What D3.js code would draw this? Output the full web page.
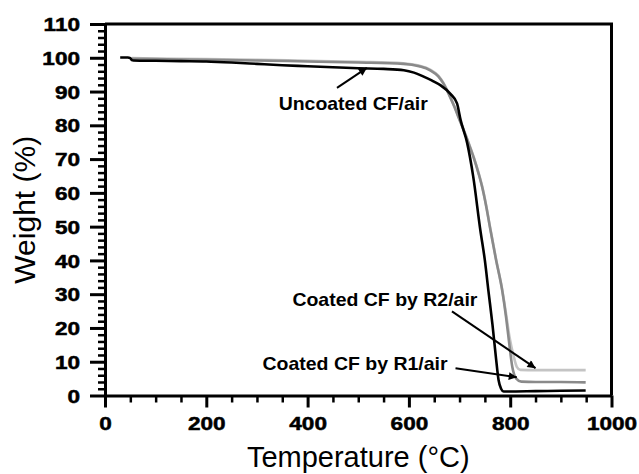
<!DOCTYPE html>
<html><head><meta charset="utf-8">
<script src="https://cdn.jsdelivr.net/npm/d3@7"></script>
<style>body{margin:0;background:#fff}svg{display:block}</style>
</head><body><svg id="c" width="639" height="474"></svg>
<script>
// ---- data ----
const uncoatedT = [30, 45, 50, 53, 56, 100, 150, 200, 250, 300, 350, 400, 450, 500, 550, 590, 610, 628, 645, 662, 682, 695, 702, 715, 727, 741, 750, 757, 765, 772, 777, 782, 787, 795, 850, 900, 949];
const uncoatedW = [100.1, 100.1, 99.9, 99.3, 99.2, 99.1, 99.0, 98.9, 98.6, 98.2, 97.8, 97.5, 97.2, 96.9, 96.7, 96.3, 95.6, 94.5, 93.3, 91.9, 89.3, 86.5, 81.6, 74.8, 64.8, 49, 40, 31, 21, 11, 4.6, 2.0, 1.2, 1.2, 1.3, 1.4, 1.5];
const r1T = [53, 100, 200, 300, 400, 500, 589, 620, 642, 658, 668, 680, 690, 698, 708, 718, 728, 738, 745, 752, 761, 772, 784, 792, 798, 804, 812, 822, 850, 900, 949];
const r1W = [99.7, 99.6, 99.4, 99.2, 98.9, 98.6, 98.2, 97.5, 96.3, 94.5, 92.4, 88.8, 85.4, 82.3, 78.6, 74.6, 70.4, 65.5, 61.5, 56.5, 49, 40.2, 31.3, 23, 15.5, 8.6, 5.0, 4.1, 4.0, 4.0, 3.9];
const r2T = [53, 100, 200, 300, 400, 500, 589, 620, 642, 658, 668, 680, 690, 698, 708, 718, 728, 738, 745, 752, 761, 772, 784, 792, 799, 807, 813, 820, 850, 900, 949];
const r2W = [99.9, 99.8, 99.6, 99.4, 99.1, 98.8, 98.4, 97.7, 96.5, 94.7, 92.6, 89.0, 85.6, 82.5, 78.8, 74.8, 70.6, 65.7, 61.7, 56.7, 49.2, 40.4, 31.5, 24, 17, 11.5, 8.5, 7.6, 7.5, 7.5, 7.5];
const xMajor = [0, 200, 400, 600, 800, 1000];
const xMinor = [50, 100, 150, 250, 300, 350, 450, 500, 550, 650, 700, 750, 850, 900, 950];
const yMajor = [0, 10, 20, 30, 40, 50, 60, 70, 80, 90, 100, 110];
const yMinor = d3.range(0, 111, 2).filter(v => v % 10 !== 0);
const labels = [
  {text: "Uncoated CF/air", t: 343, w: 84.5, tt: 458, tw: 91.1, ht: 517, hw: 97.0},
  {text: "Coated CF by R2/air", t: 370, w: 26.4, tt: 685, tw: 24.9, ht: 850, hw: 8.1},
  {text: "Coated CF by R1/air", t: 311, w: 7.6, tt: 692, tw: 8.1, ht: 813, hw: 5.4}
];

// ---- scales ----
const svg = d3.select("#c");
const x = d3.scaleLinear().domain([0, 1000]).range([105, 611.5]);
const y = d3.scaleLinear().domain([0, 110]).range([395.5, 24]);
const font = "'Liberation Sans', Arial, Helvetica, sans-serif";
const sx = 1.22;

// frame (top + right)
svg.append("path")
  .attr("d", `M${x(0)},${y(110)}H${x(1000)}V${y(0)}`)
  .attr("fill", "none").attr("stroke", "#000").attr("stroke-width", 3);

// minor ticks
svg.append("g").attr("transform", `translate(0,${y(0)})`)
  .call(d3.axisBottom(x).tickValues(xMinor).tickSize(7).tickSizeOuter(0).tickFormat(""))
  .call(g => g.select(".domain").remove())
  .call(g => g.selectAll("line").attr("stroke-width", 2.5));
svg.append("g").attr("transform", `translate(${x(0)},0)`)
  .call(d3.axisLeft(y).tickValues(yMinor).tickSize(7).tickSizeOuter(0).tickFormat(""))
  .call(g => g.select(".domain").remove())
  .call(g => g.selectAll("line").attr("stroke-width", 2.5));

// major axes
const xa = svg.append("g").attr("transform", `translate(0,${y(0)})`)
  .call(d3.axisBottom(x).tickValues(xMajor).tickSize(12).tickSizeOuter(0).tickFormat(d3.format("d")));
xa.select(".domain").attr("stroke-width", 3);
xa.selectAll("line").attr("stroke-width", 3);
xa.selectAll("text").attr("y", 34.5).attr("dy", 0)
  .attr("transform", `scale(${sx},1)`)
  .attr("font-family", font).attr("font-weight", "bold").attr("font-size", 18.5)
  .attr("fill", "#000").attr("stroke", "#000").attr("stroke-width", 0.5);

const ya = svg.append("g").attr("transform", `translate(${x(0)},0)`)
  .call(d3.axisLeft(y).tickValues(yMajor).tickSize(15).tickSizeOuter(0).tickFormat(d3.format("d")));
ya.select(".domain").attr("stroke-width", 3);
ya.selectAll("line").attr("stroke-width", 3);
ya.selectAll("text").attr("x", -25 / sx).attr("dy", "0.36em")
  .attr("transform", `scale(${sx},1)`)
  .attr("font-family", font).attr("font-weight", "bold").attr("font-size", 18.5)
  .attr("fill", "#000").attr("stroke", "#000").attr("stroke-width", 0.5);

// curves
const line = d3.line().x(d => x(d[0])).y(d => y(d[1])).curve(d3.curveMonotoneX);
const series = [
  {t: r2T, w: r2W, color: "#c4c4c4"},
  {t: r1T, w: r1W, color: "#8a8a8a"},
  {t: uncoatedT, w: uncoatedW, color: "#000"}
];
series.forEach(s => {
  svg.append("path").datum(s.t.map((t, i) => [t, s.w[i]]))
    .attr("d", line).attr("fill", "none").attr("stroke", s.color)
    .attr("stroke-width", 2.6).attr("stroke-linejoin", "round");
});

// arrows + labels
svg.append("defs").append("marker").attr("id", "ah")
  .attr("viewBox", "0 0 10 10").attr("refX", 10).attr("refY", 5)
  .attr("markerWidth", 12).attr("markerHeight", 8).attr("markerUnits", "userSpaceOnUse")
  .attr("orient", "auto")
  .append("path").attr("d", "M0,0L10,5L0,10Z").attr("fill", "#000");

const textW = [149, 185, 185];
labels.forEach((l, i) => {
  svg.append("text").attr("x", x(l.t)).attr("y", y(l.w))
    .attr("font-family", font).attr("font-weight", "bold").attr("font-size", 18.5)
    .attr("textLength", textW[i]).attr("lengthAdjust", "spacingAndGlyphs")
    .text(l.text);
  svg.append("line").attr("x1", x(l.tt)).attr("y1", y(l.tw)).attr("x2", x(l.ht)).attr("y2", y(l.hw))
    .attr("stroke", "#000").attr("stroke-width", 2).attr("marker-end", "url(#ah)");
});

// axis titles
svg.append("text").attr("x", (x(0) + x(1000)) / 2).attr("y", 467)
  .attr("text-anchor", "middle").attr("font-family", font).attr("font-size", 29)
  .text("Temperature (°C)");
svg.append("text").attr("transform", `translate(35,${(y(0) + y(110)) / 2}) rotate(-90)`)
  .attr("text-anchor", "middle").attr("font-family", font).attr("font-size", 30)
  .text("Weight (%)");
</script></body></html>
